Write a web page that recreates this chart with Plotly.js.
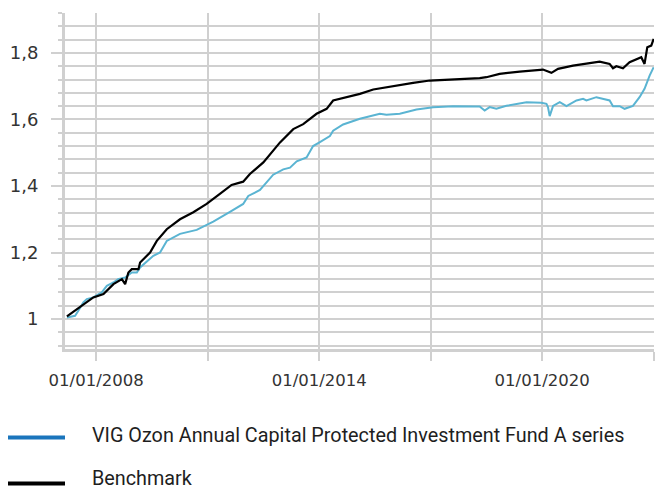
<!DOCTYPE html>
<html>
<head>
<meta charset="utf-8">
<script src="https://cdn.plot.ly/plotly-3.0.1.min.js"></script>
<style>
  html, body { margin: 0; padding: 0; background: #ffffff; }
  #chart { width: 655px; height: 489px; }
</style>
</head>
<body>
<div id="chart"></div>
<script>
// ---- Data ----
const fundName = "VIG Ozon Annual Capital Protected Investment Fund A series";
const benchName = "Benchmark";

const fundDates = [
  "2007-03-20","2007-06-08","2007-07-10","2007-08-28","2007-10-01","2007-12-04",
  "2008-02-25","2008-04-15","2008-06-19","2008-08-04","2008-10-12","2008-12-16",
  "2009-02-04","2009-03-08","2009-07-16","2009-09-20","2009-11-25","2010-04-04",
  "2010-09-15","2011-02-25","2011-08-08","2011-12-16","2012-02-04","2012-05-29",
  "2012-10-06","2013-01-13","2013-03-20","2013-05-25","2013-08-30","2013-11-02",
  "2014-01-08","2014-04-16","2014-05-18","2014-08-24","2015-02-05","2015-08-20",
  "2015-10-24","2016-03-03","2016-08-14","2017-01-25","2017-08-09","2018-04-27",
  "2018-06-15","2018-08-03","2018-10-08","2019-01-15","2019-07-31","2019-12-24",
  "2020-02-12","2020-02-27","2020-03-15","2020-04-17","2020-06-22","2020-08-27",
  "2020-12-03","2021-02-06","2021-03-11","2021-06-17","2021-10-25","2021-11-27",
  "2022-02-01","2022-03-21","2022-06-11","2022-08-15","2022-10-03","2022-11-22",
  "2023-01-01"
];
const fundValues = [
  1.005,1.010,1.025,1.050,1.060,1.065,
  1.080,1.100,1.110,1.120,1.125,1.140,
  1.140,1.155,1.190,1.200,1.235,1.256,
  1.268,1.293,1.322,1.346,1.370,1.388,
  1.434,1.450,1.455,1.474,1.486,1.520,
  1.532,1.550,1.566,1.585,1.602,1.617,
  1.614,1.617,1.630,1.637,1.640,1.639,
  1.627,1.637,1.632,1.641,1.652,1.650,
  1.647,1.637,1.610,1.641,1.652,1.640,
  1.657,1.662,1.657,1.667,1.657,1.640,
  1.640,1.632,1.641,1.667,1.692,1.732,
  1.757
];

const benchDates = [
  "2007-03-20","2007-12-04","2008-03-13","2008-06-19","2008-09-10","2008-10-12",
  "2008-11-13","2008-12-16","2009-02-20","2009-03-08","2009-06-14","2009-08-19",
  "2009-11-25","2010-04-04","2010-08-13","2010-12-22","2011-05-01","2011-08-24",
  "2011-12-16","2012-02-20","2012-07-01","2012-12-12","2013-04-21","2013-07-28",
  "2013-12-06","2014-03-15","2014-05-18","2014-09-27","2015-02-05","2015-06-16",
  "2015-10-24","2016-07-12","2016-12-23","2017-08-09","2018-04-27","2018-07-02",
  "2018-11-09","2019-05-26","2019-12-07","2020-01-09","2020-04-01","2020-06-05",
  "2020-10-30","2021-03-11","2021-07-19","2021-10-25","2021-11-27","2021-12-30",
  "2022-03-05","2022-05-09","2022-07-14","2022-09-01","2022-10-03","2022-10-30",
  "2022-12-08","2023-01-01"
];
const benchValues = [
  1.008,1.065,1.075,1.105,1.120,1.105,
  1.140,1.150,1.150,1.170,1.200,1.235,
  1.270,1.300,1.321,1.346,1.376,1.403,
  1.413,1.436,1.471,1.531,1.571,1.586,
  1.617,1.632,1.657,1.667,1.677,1.690,
  1.697,1.710,1.717,1.720,1.724,1.727,
  1.737,1.744,1.750,1.750,1.740,1.752,
  1.762,1.767,1.774,1.767,1.754,1.760,
  1.754,1.772,1.782,1.787,1.767,1.817,
  1.822,1.842
];

const xTickVals = ["2008-01-01","2011-01-01","2014-01-01","2017-01-01","2020-01-01","2023-01-01"];
const xTickText = ["01/01/2008","","01/01/2014","","01/01/2020",""];
const yTickVals = [1, 1.2, 1.4, 1.6, 1.8];
const yTickText = ["1","1,2","1,4","1,6","1,8"];

// ---- Styles ----
const gridColor = "#d0d0d0";
const fundColor = "#5ab4d2";
const fundLegendColor = "#1a75bc";
const benchColor = "#000000";
const xTickFont = {family: "DejaVu Sans, sans-serif", size: 16.5, color: "#333333"};
const yTickFont = {family: "DejaVu Sans, sans-serif", size: 18, color: "#333333"};
const legendFont = {family: "Roboto, sans-serif", size: 19.8, color: "#1e1e1e"};

const traces = [
  {x: fundDates, y: fundValues, type: "scatter", mode: "lines", name: fundName,
   line: {color: fundColor, width: 2}, showlegend: false, hoverinfo: "skip"},
  {x: benchDates, y: benchValues, type: "scatter", mode: "lines", name: benchName,
   line: {color: benchColor, width: 2.2}, showlegend: false, hoverinfo: "skip"}
];

function px2paperX(px) { return (px - 65) / 589; }
function px2paperY(py) { return (349 - py) / 336; }

const layout = {
  width: 655, height: 489,
  margin: {l: 65, r: 1, t: 13, b: 140},
  paper_bgcolor: "#ffffff", plot_bgcolor: "#ffffff",
  showlegend: false,
  xaxis: {
    type: "date",
    range: ["2007-03-01", "2023-01-04"],
    tickmode: "array", tickvals: xTickVals, ticktext: xTickText,
    ticks: "outside", ticklen: 9, tickwidth: 2, tickcolor: gridColor,
    showgrid: true, gridcolor: gridColor, gridwidth: 2,
    showline: true, linecolor: gridColor, linewidth: 3,
    zeroline: false, tickfont: xTickFont, ticklabelstandoff: 5
  },
  yaxis: {
    range: [0.91, 1.92],
    tickmode: "array", tickvals: yTickVals, ticktext: yTickText,
    ticks: "outside", ticklen: 11, tickwidth: 2, tickcolor: gridColor,
    showgrid: true, gridcolor: gridColor, gridwidth: 2,
    minor: {tickmode: "linear", tick0: 0.92, dtick: 0.04, ticks: "outside", ticklen: 4,
            tickwidth: 2, tickcolor: gridColor, showgrid: true, gridcolor: gridColor, gridwidth: 2},
    showline: true, linecolor: gridColor, linewidth: 3,
    zeroline: false, tickfont: yTickFont, ticklabelstandoff: 9
  },
  shapes: [
    {type: "line", xref: "paper", yref: "paper",
     x0: px2paperX(8), x1: px2paperX(65), y0: px2paperY(437.5), y1: px2paperY(437.5),
     line: {color: fundLegendColor, width: 4}},
    {type: "line", xref: "paper", yref: "paper",
     x0: px2paperX(8), x1: px2paperX(65), y0: px2paperY(483.5), y1: px2paperY(483.5),
     line: {color: benchColor, width: 4}}
  ],
  annotations: [
    {xref: "paper", yref: "paper", x: px2paperX(90), y: px2paperY(435.5),
     xanchor: "left", yanchor: "middle", showarrow: false, text: fundName, font: legendFont},
    {xref: "paper", yref: "paper", x: px2paperX(90), y: px2paperY(478),
     xanchor: "left", yanchor: "middle", showarrow: false, text: benchName, font: legendFont}
  ]
};

Plotly.newPlot("chart", traces, layout, {displayModeBar: false, staticPlot: true});
</script>
</body>
</html>
